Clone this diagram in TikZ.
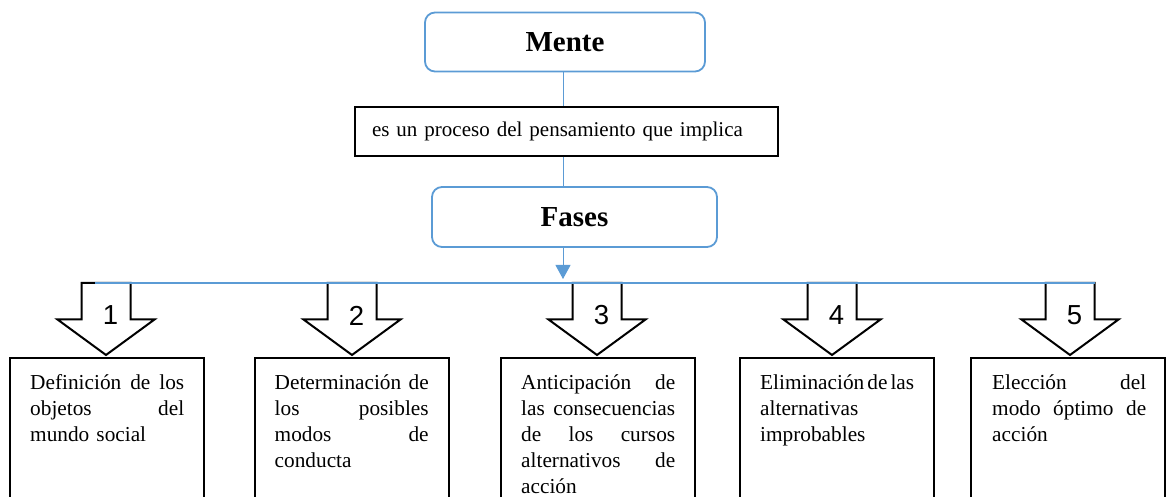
\documentclass[tikz,border=0pt]{standalone}
\usepackage{fontspec}
\setmainfont{Liberation Serif}
\newfontfamily\numfont{Liberation Sans}
\usetikzlibrary{arrows.meta,calc}
\definecolor{officeblue}{RGB}{91,155,213}
\tikzset{
    phase/.style={draw=officeblue, line width=1.8pt, rounded corners=10pt, minimum width=280pt, minimum height=59pt, font=\fontsize{29}{32}\selectfont\bfseries},
    linkbox/.style={draw=black, line width=1.2pt, minimum height=49pt, inner xsep=17pt, text width=389pt, align=left, font=\fontsize{21}{26}\selectfont},
    stepbox/.style={draw=black, line width=2pt, minimum width=194pt, minimum height=220pt, anchor=north},
    steptext/.style={anchor=north west, inner sep=0pt, text width=154pt, align=left, font=\fontsize{21.3}{26}\selectfont},
    blockarrow/.style={draw=black, line width=2pt, fill=white, line join=miter},
    bluelink/.style={draw=officeblue, line width=1pt}
}
% one justified line of a step box
\newcommand{\jl}[1]{\leavevmode\strut\hbox to 154pt{#1}\\}
\begin{document}
\begin{tikzpicture}[x=1pt,y=1pt]
    \useasboundingbox (0,0) rectangle (1167,497);
    \clip (0,0) rectangle (1167,497);

    \node[phase] (mente) at (565,455) {Mente};
    \node[linkbox] (link) at (566.5,365.5) {es un proceso del pensamiento que implica};
    \node[phase, minimum width=285pt, minimum height=60pt] (fases) at (574.5,280) {Fases};

    \coordinate (spine) at (563,0);
    \coordinate (bus) at (563,214);
    \coordinate (busW) at (95,214);
    \coordinate (busE) at (1095,214);

    \draw[bluelink] (mente.south -| spine) -- (link.north -| spine);
    \draw[bluelink] (link.south -| spine) -- (fases.north -| spine);
    \draw[bluelink, -{Triangle[width=15pt,length=14pt]}] (fases.south -| spine) -- ($(bus)+(0,4)$);

    % boxes and block arrows
    \foreach \n/\bx/\ax in {1/107/106, 2/351.5/352, 3/598/597, 4/837/832, 5/1068/1070}
        {\node[stepbox] (box\n) at (\bx,140) {};
        \draw[blockarrow] (\ax,142) -- (\ax-48.5,177.5) -- (\ax-24.5,177.5) -- (\ax-24.5,214)
            -- (\ax+24.5,214) -- (\ax+24.5,177.5) -- (\ax+48.5,177.5) -- cycle;
        \node[font=\numfont\fontsize{27.5}{30}\selectfont] (num\n) at (\ax+4.5,181.5) {\n};}

    \draw[bluelink, line width=1.2pt] (busW) -- (busE);

    \node[steptext] (text1) at ($(box1.north west)+(21,-13.8)$) {\jl{Definición\hfill de\hfill los}\jl{objetos\hfill del}mundo social};
    \node[steptext] (text2) at ($(box2.north west)+(21,-13.8)$) {\jl{Determinación\hfill de}\jl{los\hfill posibles}\jl{modos\hfill de}conducta};
    \node[steptext] (text3) at ($(box3.north west)+(21,-13.8)$) {\jl{Anticipación\hfill de}\jl{las\hfill consecuencias}\jl{de\hfill los\hfill cursos}\jl{alternativos\hfill de}acción};
    \node[steptext] (text4) at ($(box4.north west)+(21,-13.8)$) {\jl{Eliminación\hfill de\hfill las}alternativas\\improbables};
    \node[steptext] (text5) at ($(box5.north west)+(22,-13.8)$) {\jl{Elección\hfill del}\jl{modo\hfill óptimo\hfill de}acción};

\end{tikzpicture}
\end{document}
